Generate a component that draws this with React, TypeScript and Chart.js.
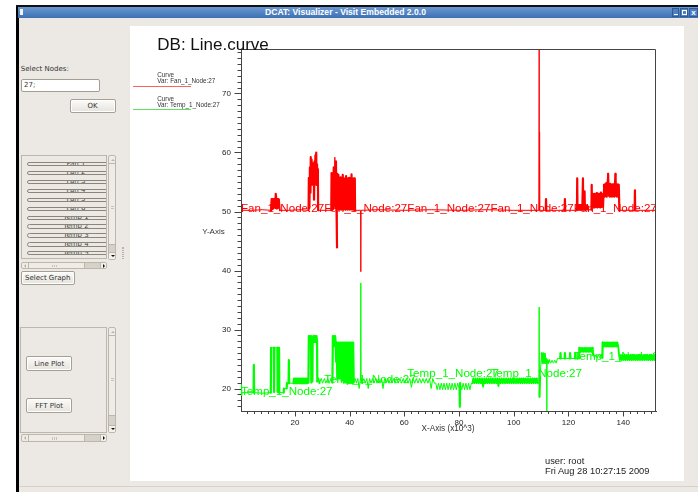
import React, { useEffect, useRef } from 'react';
import { Chart, registerables } from 'chart.js';

Chart.register(...registerables);

// ---------------- data ----------------
const fanName = 'Fan_1_Node:27';
const tempName = 'Temp_1_Node:27';

const fanCurve: [number, number][] = [
  [0.3, 50.2], [4, 50.2], [8, 50.3], [11.3, 50.2],
  [11.5, 52.1], [11.7, 50.4], [11.9, 52.1], [12.1, 50.5], [12.3, 52.1], [12.5, 51.4], [12.7, 52.2], [12.9, 50.6], [13.0, 53.0], [13.2, 52.1], [13.4, 50.5], [13.6, 52.1], [13.8, 50.6], [14.0, 52.1], [14.2, 52.0], [14.5, 50.2],
  [18, 50.2], [22, 50.3], [25.0, 50.2],
  [25.1, 55.7], [25.3, 50.6], [25.5, 57.5], [25.7, 53.2], [25.8, 59.2], [26.0, 54.5], [26.1, 58.8], [26.3, 55.0], [26.5, 58.2], [26.7, 54.5], [26.9, 57.5], [27.0, 52.0], [27.2, 58.5], [27.3, 54.8], [27.5, 59.5], [27.6, 55.5], [27.8, 60.0], [27.9, 54.5], [28.1, 58.0], [28.2, 55.0], [28.4, 57.2], [28.5, 50.2],
  [31, 50.2], [33.3, 50.2],
  [33.4, 56.5], [33.6, 50.8], [33.8, 56.5], [34.0, 50.4], [34.2, 57.5], [34.4, 51.0], [34.6, 59.2], [34.8, 50.6], [35.0, 58.5], [35.2, 51.2], [35.4, 43.9], [35.5, 56.4], [35.7, 50.5], [35.9, 56.2], [36.1, 50.3], [36.3, 55.6], [36.5, 50.6], [36.7, 55.8], [36.9, 50.3], [37.1, 55.6], [37.3, 50.5], [37.5, 56.2], [37.7, 50.3], [37.9, 55.6], [38.1, 50.6], [38.3, 55.6], [38.5, 50.3], [38.7, 56.0], [38.9, 50.5], [39.1, 55.6], [39.3, 50.3], [39.5, 55.6], [39.7, 50.6], [39.9, 55.7], [40.1, 50.3], [40.3, 55.6], [40.5, 50.5], [40.7, 56.3], [40.9, 50.3], [41.1, 55.6], [41.3, 50.5], [41.5, 55.6], [41.7, 50.3], [41.9, 55.6], [42.0, 50.2],
  [44.0, 50.2], [44.1, 39.8], [44.2, 50.2], [50, 50.3], [60, 50.2], [70, 50.3], [80, 50.2], [90, 50.3], [100, 50.2],
  [109.2, 50.2], [109.3, 77.6], [109.35, 50.3], [109.45, 63.5], [109.55, 50.2],
  [111.7, 50.2], [111.8, 52.1], [111.9, 50.2], [118.6, 50.2], [118.7, 52.1], [118.8, 50.2],
  [123.1, 50.2], [123.2, 55.6], [123.3, 50.4], [123.6, 51.1], [123.8, 50.3], [124.1, 51.1], [124.3, 50.3], [124.6, 51.1], [124.8, 50.3], [125.1, 51.1], [125.3, 55.6], [125.4, 50.3], [125.7, 51.1], [125.9, 53.4], [126.0, 50.3], [126.3, 51.1], [126.6, 50.3], [126.9, 51.1], [127.2, 50.3],
  [128.4, 50.3], [128.5, 54.5], [128.6, 50.7], [128.9, 53.0], [129.1, 50.7], [129.4, 53.0], [129.6, 50.7], [129.9, 53.0], [130.1, 50.8], [130.4, 53.1], [130.6, 50.7], [130.9, 53.0], [131.1, 50.8], [131.4, 53.0], [131.6, 50.7], [131.9, 53.2], [132.1, 50.8], [132.4, 53.0], [132.7, 50.7],
  [133.0, 54.5], [133.2, 52.5], [133.4, 54.6], [133.6, 52.6], [133.8, 54.8], [134.0, 52.5], [134.2, 54.6], [134.5, 56.4], [134.7, 52.7], [134.9, 54.6], [135.1, 52.5], [135.3, 54.7], [135.5, 52.6], [135.7, 54.5], [135.9, 52.5], [136.1, 54.6], [136.3, 52.7], [136.5, 54.6], [136.7, 52.5], [136.9, 54.6], [137.2, 56.4], [137.4, 52.6], [137.6, 54.6], [137.8, 52.5], [138.0, 54.6], [138.2, 52.6], [138.4, 54.5], [138.6, 50.2],
  [144.2, 50.2], [144.3, 53.6], [144.4, 50.2], [152, 50.2],
];

const tempCurve: [number, number][] = [
  [0.3, 20.6], [0.45, 18.9], [0.6, 19.3], [3, 19.3], [4.9, 19.3], [5.0, 24.0], [5.1, 19.3], [8, 19.2], [11.2, 19.3],
  [11.3, 26.9], [12.3, 26.9], [12.4, 19.4], [12.5, 26.9], [13.6, 26.9], [13.7, 19.4], [13.8, 26.9], [14.2, 26.9], [14.3, 19.3],
  [15.9, 19.3], [16.0, 20.0], [17.0, 20.0], [17.1, 20.9], [17.7, 20.9], [17.8, 24.8], [17.9, 20.9], [19.5, 20.9],
  [19.7, 21.7], [19.95, 20.9], [20.2, 21.7], [20.45, 20.9], [20.7, 21.7], [20.95, 20.9], [21.2, 21.7], [21.45, 20.9], [21.7, 21.7], [21.95, 20.9], [22.2, 21.7], [22.45, 20.9], [22.7, 21.7], [22.95, 20.9], [23.2, 21.7], [23.45, 20.9], [23.7, 21.7], [23.95, 20.9], [24.2, 21.7], [24.45, 20.9], [24.7, 21.7], [24.95, 21.0],
  [25.1, 28.9], [25.3, 27.9], [25.5, 28.9], [25.7, 27.9], [25.9, 28.9], [26.0, 21.0], [26.4, 21.2], [26.5, 27.9], [26.7, 28.9], [26.9, 27.9], [27.1, 28.9], [27.3, 27.9], [27.5, 28.9], [27.7, 27.9], [27.9, 28.9], [28.1, 27.9], [28.2, 21.2],
  [28.6, 21.7], [29.0, 20.9], [29.6, 21.7], [30.1, 20.9], [30.8, 21.7], [31.3, 20.9], [32.0, 21.7], [32.5, 20.9], [33.2, 21.7], [33.7, 21.0],
  [33.9, 28.9], [34.1, 27.5], [34.3, 28.9], [34.5, 27.2], [34.7, 28.9], [34.9, 27.8], [35.1, 24.5], [35.3, 27.8], [35.5, 21.5], [35.7, 27.8], [35.9, 23.0], [36.1, 27.8], [36.3, 21.7], [36.5, 27.8], [36.7, 22.5], [36.9, 27.8], [37.1, 21.3], [37.3, 27.8], [37.5, 21.7], [37.7, 27.8], [37.9, 21.0], [38.1, 27.8], [38.3, 21.5], [38.5, 27.8], [38.7, 21.0], [38.9, 27.8], [39.1, 21.2], [39.3, 27.8], [39.5, 20.9], [39.7, 27.8], [39.9, 21.2], [40.1, 27.8], [40.3, 20.9], [40.5, 27.8], [40.7, 21.0], [40.9, 27.8], [41.1, 20.9], [41.3, 27.8], [41.5, 21.0],
  [42.0, 21.7], [42.5, 20.9], [43.0, 21.7], [43.5, 20.0], [44.0, 21.7], [44.1, 37.9], [44.2, 21.7], [44.6, 20.9], [45.2, 21.7], [45.7, 20.9], [46.3, 21.7], [46.8, 20.0], [47.3, 21.7], [47.8, 20.9], [48.4, 21.7], [48.9, 20.9], [49.5, 21.7], [50.0, 20.9], [50.6, 21.7], [51.1, 20.9], [51.7, 21.7], [52.2, 20.0], [52.8, 21.7], [53.3, 20.9], [53.9, 21.7], [54.4, 20.9], [55.0, 21.7], [55.5, 20.9], [56.1, 21.7], [56.6, 20.9], [57.2, 21.7], [57.8, 20.9], [58.4, 21.7], [59.0, 20.9], [59.6, 21.7], [60.2, 20.9], [60.8, 21.7], [61.4, 20.9], [62.0, 21.7], [62.6, 20.2], [63.2, 21.7], [63.8, 20.9], [64.4, 21.7], [65.0, 20.9], [65.6, 21.7], [66.2, 20.9], [66.8, 21.7], [67.4, 20.9], [68.0, 21.7], [68.6, 20.9], [69.2, 21.7], [69.8, 20.0], [70.4, 21.7], [71.0, 20.9], [71.5, 20.9],
  [72.0, 19.8], [72.5, 20.9], [73.0, 19.8], [73.5, 20.9], [74.0, 19.8], [74.5, 20.9], [75.0, 19.8], [75.5, 20.9], [76.0, 19.8], [76.5, 20.9], [77.0, 19.8], [77.5, 20.9], [78.0, 19.8], [78.5, 20.9], [79.0, 19.8], [79.5, 20.9], [80.2, 19.8], [80.3, 16.9], [80.4, 20.9], [81.0, 19.8], [81.5, 20.9], [82.0, 19.8], [82.5, 20.9], [83.0, 19.8], [83.5, 20.9], [84.0, 19.8], [84.5, 20.9], [84.9, 20.9],
  [85.2, 21.7], [85.6, 20.9], [86.0, 21.7], [86.4, 20.9], [86.8, 21.7], [87.2, 20.9], [87.6, 21.7], [88.0, 20.9], [88.4, 21.7], [88.8, 20.3], [89.2, 21.7], [89.6, 20.9], [90.0, 21.7], [90.4, 20.9], [90.8, 21.7], [91.2, 20.9], [91.6, 21.7], [92.0, 20.9], [92.4, 21.7], [92.8, 20.9], [93.2, 21.7], [93.6, 20.9], [94.0, 21.7], [94.4, 20.4], [94.8, 21.7], [95.2, 20.9], [95.6, 21.7], [96.0, 20.9], [96.4, 21.7], [96.8, 20.9], [97.2, 21.7], [97.6, 20.9], [98.0, 21.7], [98.4, 20.9], [98.8, 21.7], [99.2, 20.9], [99.6, 21.7], [100.0, 20.9], [100.4, 21.7], [100.8, 20.9], [101.2, 21.7], [101.6, 20.9], [102.0, 21.7], [102.4, 20.9], [102.8, 21.7], [103.2, 20.9], [103.6, 21.7], [104.0, 20.9], [104.4, 21.7], [104.8, 20.9], [105.2, 21.7], [105.6, 20.9], [106.0, 21.7], [106.4, 20.9], [106.8, 21.7], [107.2, 20.9], [107.6, 21.7], [108.0, 20.9], [108.4, 21.7], [108.8, 20.9],
  [109.2, 21.0], [109.3, 33.8], [109.4, 18.6], [109.6, 22.0], [110.2, 26.0], [110.5, 24.3], [110.8, 26.0], [111.1, 24.3], [111.4, 25.9], [111.7, 24.3], [112.0, 25.0], [112.1, 16.1], [112.2, 24.8], [112.6, 24.3], [113.0, 24.8], [113.5, 24.3], [114.0, 24.8], [114.5, 24.3], [115.0, 24.8], [115.5, 24.3],
  [116.0, 25.1], [117.0, 25.1], [117.1, 26.0], [117.2, 25.1], [118.6, 25.1], [118.7, 26.0], [118.8, 25.1], [120.5, 25.1], [120.6, 26.0], [120.7, 25.1], [122.4, 25.1], [122.5, 26.0], [122.6, 25.1], [123.9, 25.1],
  [124.0, 26.9], [124.3, 26.2], [124.6, 26.9], [124.9, 26.2], [125.2, 26.9], [125.5, 26.2], [125.8, 26.9], [126.1, 26.2], [126.4, 26.9], [126.7, 26.2], [127.0, 26.9], [127.3, 26.2], [127.6, 26.9], [127.9, 26.2], [128.2, 26.9], [128.5, 26.2], [128.8, 26.9],
  [129.0, 25.7], [129.5, 25.2], [130.0, 25.7], [130.5, 25.2], [131.0, 25.7], [131.5, 25.2], [132.0, 25.7], [132.4, 25.2],
  [132.5, 27.8], [132.8, 27.1], [133.1, 27.8], [133.4, 27.1], [133.7, 27.8], [134.0, 27.1], [134.3, 27.8], [134.6, 27.1], [134.9, 27.8], [135.2, 27.1], [135.5, 27.8], [135.8, 27.1], [136.1, 27.8], [136.4, 27.1], [136.7, 27.8], [137.0, 27.1], [137.3, 27.8], [137.6, 27.1], [137.9, 27.8], [138.2, 27.1], [138.5, 25.7],
  [138.8, 24.8], [139.15, 25.7], [139.5, 24.8], [139.85, 25.7], [140.2, 24.8], [140.55, 25.7], [140.9, 24.8], [141.25, 25.7], [141.6, 24.8], [141.95, 25.7], [142.3, 24.8], [142.65, 25.7], [143.0, 24.8], [143.35, 25.7], [143.7, 24.8], [144.05, 25.7], [144.4, 24.8], [144.75, 25.7], [145.1, 24.8], [145.45, 25.7], [145.8, 24.8], [146.15, 25.7], [146.5, 24.8], [146.85, 25.7], [147.2, 24.8], [147.55, 25.7], [147.9, 24.8], [148.25, 25.7], [148.6, 24.8], [148.95, 25.7], [149.3, 24.8], [149.65, 25.7], [150.0, 24.8], [150.35, 25.7], [150.7, 24.8], [151.05, 25.7], [151.4, 24.8], [151.75, 25.7], [152.0, 25.2],
];

const curveLabelX = [0.3, 30.7, 61.1, 91.5, 121.9];
const fanLabelY = [50.2, 50.2, 50.2, 50.2, 50.2];
const tempLabelY = [19.24, 21.27, 22.3, 22.3, 25.17];

const xTicks = [20, 40, 60, 80, 100, 120, 140];
const yTicks = [20, 30, 40, 50, 60, 70];
const xRange = [0.3, 152];
const yRange = [16.19, 77.54];

const nodeItems = ['Fan 1', 'Fan 2', 'Fan 3', 'Fan 4', 'Fan 5', 'Fan 6', 'Temp 1', 'Temp 2', 'Temp 3', 'Temp 4', 'Temp 5'];

// ---------------- styles ----------------
const SANS = '"Liberation Sans", Arial, Helvetica, sans-serif';
const NARROW = '"Liberation Sans Narrow", "Liberation Sans", Arial, sans-serif';
const UI = '"DejaVu Sans", Verdana, sans-serif';
const GRAY = '#ece9e4';
const EDGE = '#bcb7ad';

const abs = (s: React.CSSProperties): React.CSSProperties => ({ position: 'absolute', boxSizing: 'border-box', ...s });

function Text({ left, top, size, children, color = '#222', family = SANS, weight = 400 }: any) {
  return (
    <div style={abs({ left, top, fontSize: size, lineHeight: 1, fontFamily: family, color, fontWeight: weight, whiteSpace: 'pre' })}>{children}</div>
  );
}

function Button({ left, top, width, height, label }: any) {
  return (
    <div style={abs({ left, top, width, height, border: '1px solid #a5a096', borderRadius: 2, background: 'linear-gradient(#fcfbf9, #e6e3dc)', boxShadow: 'inset 0 0 0 1px #ffffff', display: 'flex', alignItems: 'center', justifyContent: 'center', fontFamily: UI, fontSize: 7, color: '#333' })}>{label}</div>
  );
}

const tri = (dir: 'up' | 'down' | 'left' | 'right', color: string): React.CSSProperties => {
  const t = 'transparent';
  if (dir === 'up') return { width: 0, height: 0, borderLeft: `2px solid ${t}`, borderRight: `2px solid ${t}`, borderBottom: `2.5px solid ${color}` };
  if (dir === 'down') return { width: 0, height: 0, borderLeft: `2px solid ${t}`, borderRight: `2px solid ${t}`, borderTop: `2.5px solid ${color}` };
  if (dir === 'left') return { width: 0, height: 0, borderTop: `2px solid ${t}`, borderBottom: `2px solid ${t}`, borderRight: `2.5px solid ${color}` };
  return { width: 0, height: 0, borderTop: `2px solid ${t}`, borderBottom: `2px solid ${t}`, borderLeft: `2.5px solid ${color}` };
};

function VScroll({ left, top, height, thumbTop, thumbH }: any) {
  return (
    <div style={abs({ left, top, width: 7.7, height, border: `1px solid ${EDGE}`, borderRadius: 2, background: '#efece7', overflow: 'hidden' })}>
      <div style={abs({ left: 0, top: 0, width: '100%', height: 8, borderBottom: `1px solid ${EDGE}` })} />
      <div style={abs({ left: 1.5, top: 2.5, ...tri('up', '#b9b4ab') })} />
      <div style={abs({ left: 1.5, top: height / 2 - 3, width: 3, height: 3, borderTop: '1px solid #c8c3ba', borderBottom: '1px solid #c8c3ba' })} />
      <div style={abs({ left: 0, top: thumbTop - top, width: '100%', height: thumbH, background: '#d6d2ca', borderTop: `1px solid ${EDGE}` })} />
      <div style={abs({ left: 0, top: height - 9, width: '100%', height: 9, borderTop: `1px solid ${EDGE}`, background: '#f3f1ed' })} />
      <div style={abs({ left: 1.5, top: height - 6, ...tri('down', '#111') })} />
    </div>
  );
}

function HScroll({ left, top, width, height }: any) {
  return (
    <div style={abs({ left, top, width, height, border: `1px solid ${EDGE}`, borderRadius: 2, background: '#efece7', overflow: 'hidden' })}>
      <div style={abs({ left: 0, top: 0, width: 7, height: '100%', borderRight: `1px solid ${EDGE}` })} />
      <div style={abs({ left: 2, top: height / 2 - 2.5, ...tri('left', '#b9b4ab') })} />
      <div style={abs({ left: 30, top: 2, width: 5, height: height - 5, borderLeft: '1px solid #c8c3ba', borderRight: '1px solid #c8c3ba' })} />
      <div style={abs({ left: 32, top: 2, width: 1, height: height - 5, background: '#c8c3ba' })} />
      <div style={abs({ left: 62.5, top: 0, width: 17, height: '100%', background: '#d6d2ca', borderLeft: `1px solid ${EDGE}` })} />
      <div style={abs({ left: width - 8, top: 0, width: 8, height: '100%', borderLeft: `1px solid ${EDGE}`, background: '#f3f1ed' })} />
      <div style={abs({ left: width - 5.5, top: height / 2 - 2.5, ...tri('right', '#111') })} />
    </div>
  );
}

// ---------------- chart ----------------
function Plot() {
  const ref = useRef<HTMLCanvasElement>(null);
  useEffect(() => {
    const canvas = ref.current;
    if (!canvas) return;
    const decor = {
      id: 'visitDecor',
      afterDatasetsDraw(chart: any) {
        const { ctx, chartArea: a } = chart;
        const xs = chart.scales.x;
        const ys = chart.scales.y;
        // curve labels, clipped to the plot area
        ctx.save();
        ctx.beginPath();
        ctx.rect(a.left, a.top, a.right - a.left, a.bottom - a.top);
        ctx.clip();
        ctx.font = `11.6px ${SANS}`;
        ctx.textAlign = 'left';
        ctx.textBaseline = 'alphabetic';
        ctx.fillStyle = '#ff0000';
        curveLabelX.forEach((xv, i) => ctx.fillText(fanName, xs.getPixelForValue(xv), ys.getPixelForValue(fanLabelY[i]) + 2));
        ctx.fillStyle = '#00ff00';
        curveLabelX.forEach((xv, i) => ctx.fillText(tempName, xs.getPixelForValue(xv), ys.getPixelForValue(tempLabelY[i]) + 2));
        ctx.restore();

        // frame + tick marks
        ctx.save();
        ctx.strokeStyle = '#444';
        ctx.lineWidth = 1;
        ctx.beginPath();
        const top = Math.round(a.top) + 0.5;
        const right = Math.round(a.right) - 0.5;
        ctx.moveTo(a.left, top);
        ctx.lineTo(right, top);
        ctx.lineTo(right, a.bottom);
        for (let v = Math.ceil(ys.min); v <= ys.max; v += 1) {
          const py = Math.round(ys.getPixelForValue(v)) + 0.5;
          const len = yTicks.includes(v) ? 6.5 : 3.5;
          ctx.moveTo(a.left - len, py);
          ctx.lineTo(a.left, py);
        }
        for (let v = 2.5; v <= xs.max; v += 2.5) {
          if (v < xs.min) continue;
          const px = Math.round(xs.getPixelForValue(v)) + 0.5;
          const len = xTicks.includes(v) ? 5.5 : 3;
          ctx.moveTo(px, a.bottom);
          ctx.lineTo(px, a.bottom + len);
        }
        ctx.stroke();
        ctx.restore();
      },
    };

    // dense oscillating stretches are drawn heavier so they render solid (as in the original renderer)
    const segmentWidth = (c: any) => {
      const dx = Math.abs(c.p1.parsed.x - c.p0.parsed.x);
      const dy = Math.abs(c.p1.parsed.y - c.p0.parsed.y);
      if (dy < 0.5 || dy >= 8) return 1;
      if (dx <= 0.25) return 2.2;
      if (dx <= 0.45) return 1.8;
      return 1;
    };

    const lineStyle = {
      showLine: true,
      borderWidth: 1,
      pointRadius: 0,
      tension: 0,
      borderDash: [5000, 0],
      borderJoinStyle: 'round',
      borderCapStyle: 'round',
      segment: { borderWidth: segmentWidth },
    };

    const chart = new Chart(canvas, {
      type: 'scatter',
      data: {
        datasets: [
          {
            label: fanName,
            data: fanCurve.map(([x, y]) => ({ x, y })),
            borderColor: '#ff0000',
            backgroundColor: '#ff0000',
            ...lineStyle,
          },
          {
            label: tempName,
            data: tempCurve.map(([x, y]) => ({ x, y })),
            borderColor: '#00ff00',
            backgroundColor: '#00ff00',
            ...lineStyle,
          },
        ],
      },
      options: {
        responsive: false,
        maintainAspectRatio: false,
        animation: false,
        devicePixelRatio: 1,
        events: [],
        layout: { padding: { top: 23, right: 28, bottom: 0, left: 0 } },
        plugins: { legend: { display: false }, tooltip: { enabled: false }, title: { display: false } },
        scales: {
          x: {
            type: 'linear',
            position: 'bottom',
            min: xRange[0],
            max: xRange[1],
            afterBuildTicks: (s: any) => { s.ticks = xTicks.map((v) => ({ value: v })); },
            afterFit: (s: any) => { s.height = 70; },
            grid: { display: false, drawTicks: false },
            border: { display: true, color: '#444', width: 1 },
            ticks: { padding: 7, maxRotation: 0, autoSkip: false, color: '#222', font: { family: NARROW, size: 8 }, callback: (v: any) => String(v) },
          },
          y: {
            type: 'linear',
            position: 'left',
            min: yRange[0],
            max: yRange[1],
            afterBuildTicks: (s: any) => { s.ticks = yTicks.map((v) => ({ value: v })); },
            afterFit: (s: any) => { s.width = 111; },
            grid: { display: false, drawTicks: false },
            border: { display: true, color: '#444', width: 1 },
            ticks: { padding: 10, color: '#222', font: { family: NARROW, size: 8 }, callback: (v: any) => String(v) },
          },
        },
      },
      plugins: [decor],
    } as any);
    return () => chart.destroy();
  }, []);
  return <canvas ref={ref} width={554} height={455} style={abs({ left: 130, top: 26, width: 554, height: 455 })} />;
}

// ---------------- app ----------------
export default function App() {
  const rowCenters = [163.3, 172.2, 181.1, 190, 198.9, 207.8, 216.7, 225.6, 234.5, 243.4, 252.3];
  return (
    <div style={{ position: 'fixed', left: 0, top: 0, width: 698, height: 492, background: '#ffffff', overflow: 'hidden', fontFamily: SANS }}>
      {/* window body */}
      <div style={abs({ left: 18, top: 18, width: 680, height: 474, background: GRAY })} />
      <div style={abs({ left: 19, top: 486, width: 679, height: 1, background: '#d6d2cb' })} />
      {/* black frame */}
      <div style={abs({ left: 16, top: 5, width: 2.7, height: 487, background: '#000' })} />
      {/* title bar */}
      <div style={abs({ left: 16, top: 5, width: 682, height: 2, background: '#111' })} />
      <div style={abs({ left: 18, top: 6.7, width: 680, height: 11.6, background: 'linear-gradient(#6a98d2, #3d70b3)' })} />
      <div style={abs({ left: 19.5, top: 9, width: 3, height: 6, background: '#f4f4f4' })} />
      <Text left={265} top={8.3} size={8.6} color="#ffffff" weight={700}>DCAT: Visualizer - Visit Embedded 2.0.0</Text>
      <div style={abs({ left: 672, top: 8, width: 7, height: 9, border: '1px solid #2e5c98', background: '#4f80c0' })} />
      <div style={abs({ left: 673.5, top: 14, width: 4, height: 1.2, background: '#fff' })} />
      <div style={abs({ left: 680, top: 8, width: 8, height: 9, border: '1px solid #2e5c98', background: '#4f80c0' })} />
      <div style={abs({ left: 681.5, top: 10, width: 5, height: 5, border: '1px solid #fff' })} />
      <div style={abs({ left: 689, top: 8, width: 9, height: 9, border: '1px solid #2e5c98', background: '#4f80c0', color: '#fff', fontSize: 8, lineHeight: '7px', fontWeight: 700, textAlign: 'center', fontFamily: SANS })}>x</div>

      {/* left control panel */}
      <Text left={20.7} top={65.5} size={7} family={UI} color="#333">Select Nodes:</Text>
      <div style={abs({ left: 21, top: 79, width: 79.3, height: 13.3, border: '1px solid #a39e94', borderRadius: 2, background: '#fff' })} />
      <Text left={24} top={82.3} size={7} family={UI} color="#333">27;</Text>
      <Button left={69.5} top={98.5} width={46} height={14} label="OK" />

      {/* node list */}
      <div style={abs({ left: 20.5, top: 155, width: 86.5, height: 104, border: `1px solid ${EDGE}`, background: GRAY, overflow: 'hidden' })}>
        {nodeItems.map((name, i) => (
          <div key={name} style={abs({ left: 5.5, top: rowCenters[i] - 155 - 2.2, width: 95, height: 4.4, border: '1px solid #8b867c', borderRadius: 3, overflow: 'hidden' })}>
            <div style={abs({ left: 0, top: -3.6, width: 93, height: 9, fontFamily: UI, fontSize: 7, lineHeight: '9px', color: '#444' })}>
              <span style={{ position: 'absolute', left: 28, width: 40, textAlign: 'center' }}>{name}</span>
            </div>
          </div>
        ))}
      </div>
      <VScroll left={108.3} top={155} height={105} thumbTop={242.5} thumbH={10} />
      <HScroll left={20.7} top={261.7} width={86.6} height={7.8} />
      <div style={abs({ left: 121.5, top: 246.5, width: 2.5, height: 12, borderLeft: '1px dotted #b8b3aa', borderRight: '1px dotted #b8b3aa' })} />
      <Button left={20.7} top={270.7} width={54} height={14.8} label="Select Graph" />

      {/* plot type group */}
      <div style={abs({ left: 20, top: 327.3, width: 86.7, height: 105.5, border: `1px solid ${EDGE}`, background: GRAY })} />
      <Button left={26} top={356} width={46.3} height={15} label="Line Plot" />
      <Button left={26} top={398} width={46.3} height={15} label="FFT Plot" />
      <VScroll left={108.3} top={327.3} height={106} thumbTop={414.5} thumbH={11} />
      <HScroll left={20.7} top={433.5} width={86.6} height={8.8} />

      {/* plot window */}
      <div style={abs({ left: 129.5, top: 26, width: 554.5, height: 455, background: '#ffffff' })} />
      <Plot />
      <Text left={157.3} top={36.1} size={17} color="#111">DB: Line.curve</Text>
      <Text left={157.3} top={72.2} size={6.3} color="#333">Curve</Text>
      <Text left={157.3} top={78.2} size={6.3} color="#333">Var: Fan_1_Node:27</Text>
      <div style={abs({ left: 132.7, top: 85.5, width: 58.3, height: 1, background: '#ff6060' })} />
      <Text left={157.3} top={96.2} size={6.3} color="#333">Curve</Text>
      <Text left={157.3} top={102.2} size={6.3} color="#333">Var: Temp_1_Node:27</Text>
      <div style={abs({ left: 132.7, top: 108.8, width: 58.3, height: 1, background: '#60e060' })} />
      <Text left={202.3} top={228.3} size={8} color="#333">Y-Axis</Text>
      <Text left={421.5} top={424.9} size={8.2} color="#333">X-Axis (x10^3)</Text>
      <Text left={545} top={457.1} size={9.3} color="#222">user: root</Text>
      <Text left={545} top={467.1} size={9.3} color="#222">Fri Aug 28 10:27:15 2009</Text>
    </div>
  );
}
